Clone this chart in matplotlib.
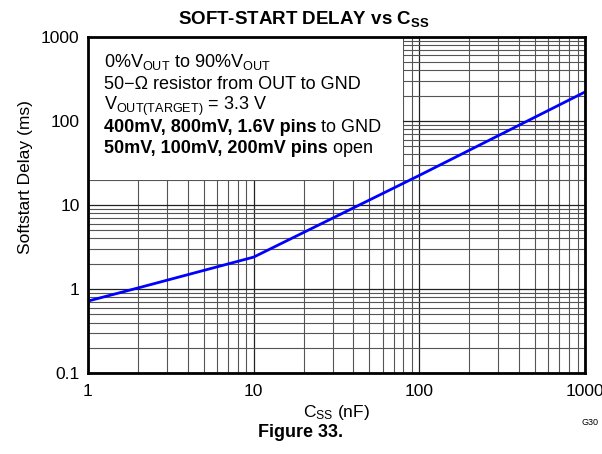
import matplotlib
matplotlib.use("Agg")
import matplotlib.pyplot as plt
from matplotlib.patches import Rectangle
from matplotlib.ticker import LogLocator, NullFormatter, FixedLocator, FixedFormatter

plt.rcParams['font.family'] = ['Liberation Sans', 'DejaVu Sans']
plt.rcParams['mathtext.fontset'] = 'custom'
plt.rcParams['mathtext.rm'] = 'Liberation Sans'
plt.rcParams['mathtext.it'] = 'Liberation Sans'
plt.rcParams['mathtext.bf'] = 'Liberation Sans:bold'

# dati
css_nf = [1, 2, 10, 100, 1000]
delay_ms = [0.72, 1.03, 2.4, 22.5, 221]

x_ticks = [1, 10, 100, 1000]
x_labels = ['1', '10', '100', '1000']
y_ticks = [0.1, 1, 10, 100, 1000]
y_labels = ['0.1', '1', '10', '100', '1000']

# note: (parte in grassetto, parte normale)
note_lines = [
    ('', r'0%V$_{\mathrm{OUT}}$ to 90%V$_{\mathrm{OUT}}$'),
    ('', '50\u2212\u03a9 resistor from OUT to GND'),
    ('', r'V$_{\mathrm{OUT(TARGET)}}$ = 3.3 V'),
    ('400mV, 800mV, 1.6V pins', ' to GND'),
    ('50mV, 100mV, 200mV pins', ' open'),
]

fig = plt.figure(figsize=(6.02, 4.54), dpi=100)
ax = fig.add_axes([0.146, 0.178, 0.826, 0.741])

ax.set_xscale('log')
ax.set_yscale('log')
ax.set_xlim(1, 1000)
ax.set_ylim(0.1, 1000)

ax.xaxis.set_major_locator(FixedLocator(x_ticks))
ax.xaxis.set_major_formatter(FixedFormatter(x_labels))
ax.yaxis.set_major_locator(FixedLocator(y_ticks))
ax.yaxis.set_major_formatter(FixedFormatter(y_labels))
ax.xaxis.set_minor_locator(LogLocator(base=10, subs=range(2, 10)))
ax.yaxis.set_minor_locator(LogLocator(base=10, subs=range(2, 10)))
ax.xaxis.set_minor_formatter(NullFormatter())
ax.yaxis.set_minor_formatter(NullFormatter())
ax.tick_params(which='both', length=0, labelsize=12.5)
ax.tick_params(axis='x', pad=8)
ax.tick_params(axis='y', pad=6)

ax.grid(True, which='major', color='#222222', linewidth=0.9)
ax.grid(True, which='minor', color='#555555', linewidth=0.8)
ax.set_axisbelow(True)

# riquadro bianco che copre la griglia dietro le note
ax.add_patch(Rectangle((0, 0.575), 0.634, 0.425, transform=ax.transAxes,
                       facecolor='white', edgecolor='none', zorder=1.5))

ax.plot(css_nf, delay_ms, color='#0000ff', linewidth=2, zorder=3)

for sp in ax.spines.values():
    sp.set_linewidth(2)
    sp.set_zorder(4)

for i, (bold, normal) in enumerate(note_lines):
    y = 0.909 - i * 0.0637
    if bold:
        t = ax.text(0.032, y, bold, transform=ax.transAxes, fontsize=13,
                    fontweight='bold', va='baseline', ha='left', zorder=4)
        ax.annotate(normal, xy=(1, 0), xycoords=t, fontsize=13,
                    va='bottom', ha='left', zorder=4)
    else:
        ax.text(0.032, y, normal, transform=ax.transAxes, fontsize=13,
                va='baseline', ha='left', zorder=4)

ax.text(0.181, 1.052, r'SOFT-START DELAY vs C$_{\mathbf{SS}}$', transform=ax.transAxes,
        fontsize=13.5, fontweight='bold', ha='left', va='center')
ax.set_ylabel('Softstart Delay (ms)', fontsize=12.5)
ax.yaxis.set_label_coords(-0.111, 0.583)
ax.set_xlabel(r'C$_{\mathrm{SS}}$ (nF)', fontsize=12.5, labelpad=3)

fig.text(0.5, 0.048, 'Figure 33.', fontsize=13, fontweight='bold', ha='center', va='center')
fig.text(0.98, 0.07, 'G30', fontsize=6.5, ha='center', va='center')

fig.savefig('out.png', dpi=100)
